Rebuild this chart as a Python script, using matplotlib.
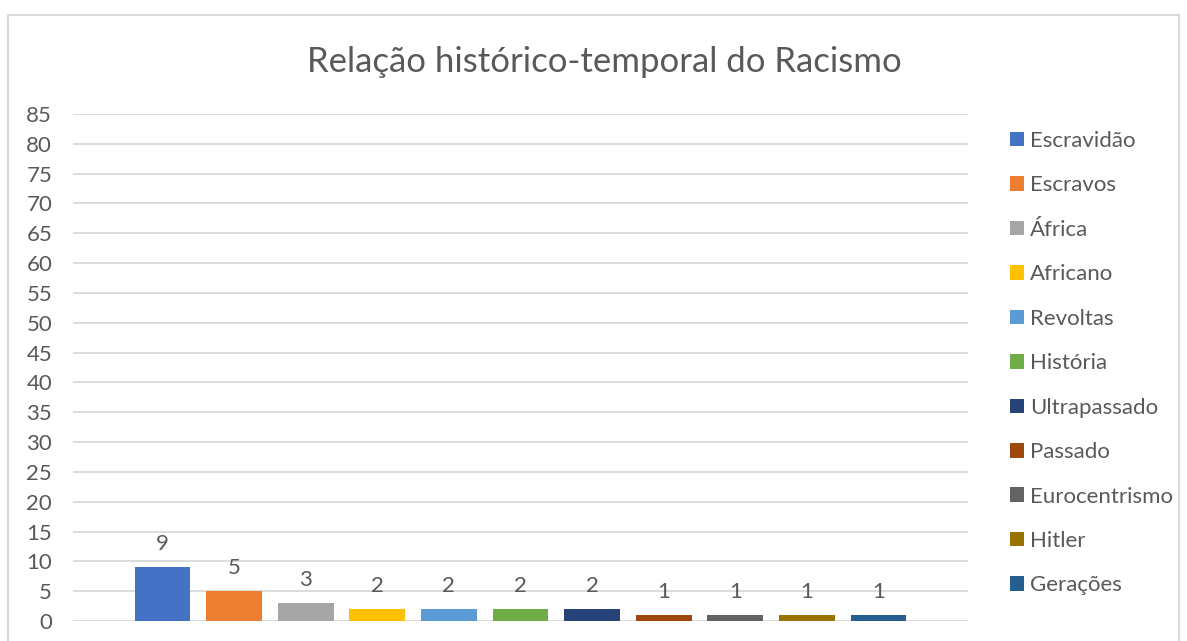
import numpy as np
import matplotlib.pyplot as plt
from matplotlib.patches import Rectangle

# dados do gráfico
categorias = ['Escravidão', 'Escravos', 'África', 'Africano', 'Revoltas', 'História',
              'Ultrapassado', 'Passado', 'Eurocentrismo', 'Hitler', 'Gerações']
valores = [9, 5, 3, 2, 2, 2, 2, 1, 1, 1, 1]
cores = ['#4472C4', '#ED7D31', '#A5A5A5', '#FFC000', '#5B9BD5', '#70AD47',
         '#264478', '#9E480E', '#636363', '#997300', '#255E91']
yticks = list(range(0, 90, 5))

plt.rcParams['font.family'] = ['Lato', 'DejaVu Sans']
cinza = '#595959'

W, H = 1187, 641
fig = plt.figure(figsize=(W / 100, H / 100), dpi=100)

# moldura do gráfico (estilo Excel)
fig.patches.append(Rectangle((8 / W, 1 - 700 / H), 1171 / W, 685 / H,
                             transform=fig.transFigure, fill=False,
                             edgecolor='#d9d9d9', lw=1.5))

ax = fig.add_axes([73 / W, 1 - 621 / H, (968 - 73) / W, (621 - 114) / H])

x = np.arange(len(categorias))
barras = ax.bar(x, valores, width=0.78, color=cores, zorder=3)
for xi, v in zip(x, valores):
    ax.text(xi, v + 2.2, str(v), ha='center', va='bottom', fontsize=16, color=cinza)

ax.set_ylim(0, 85)
ax.set_xlim(-1.25, 11.25)
ax.set_yticks(yticks)
ax.set_xticks([])
ax.tick_params(axis='y', length=0, pad=15, labelsize=16, labelcolor=cinza)
ax.grid(axis='y', color='#d9d9d9', lw=1.3, zorder=0)
for s in ax.spines.values():
    s.set_visible(False)

fig.text(604 / W, 1 - 62 / H, 'Relação histórico-temporal do Racismo',
         ha='center', va='center', fontsize=25, color=cinza)

ax.legend(barras, categorias, loc='upper left', bbox_to_anchor=(1010 / W, 1 - 131 / H),
          bbox_transform=fig.transFigure, frameon=False, fontsize=16,
          labelcolor=cinza, handlelength=0.63, handleheight=0.63, handletextpad=0.28,
          labelspacing=1.1, borderpad=0, borderaxespad=0)

plt.savefig('out.png', dpi=100)
